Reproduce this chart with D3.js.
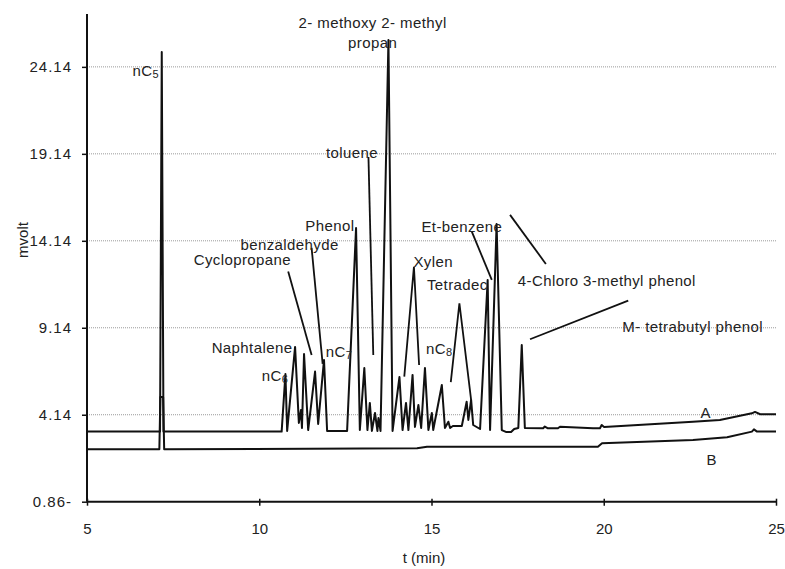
<!DOCTYPE html>
<html>
<head>
<meta charset="utf-8">
<script src="https://cdn.jsdelivr.net/npm/d3@7"></script>
<style>
  body { margin: 0; background: #fff; }
  text { font-family: "Liberation Sans", Arial, sans-serif; fill: #222; }
</style>
</head>
<body>
<svg id="chart" width="785" height="569"></svg>
<script>
const width = 785;
const height = 569;

// retention time (min) and signal (mvolt)
const timeA = [5.00, 7.12, 7.17, 7.22, 10.65, 10.76, 10.81, 11.04, 11.15, 11.21, 11.24, 11.30, 11.42, 11.62, 11.71,
  11.88, 11.97, 12.55, 12.81, 12.92, 13.05, 13.14, 13.21, 13.27, 13.36, 13.43, 13.46, 13.52, 13.75, 13.87,
  14.07, 14.16, 14.26, 14.33, 14.45, 14.52, 14.62, 14.70, 14.81, 14.91, 15.01, 15.05, 15.30, 15.39, 15.49,
  15.54, 15.62, 15.88, 16.02, 16.07, 16.15, 16.21, 16.41, 16.63, 16.70, 16.89, 17.04, 17.16, 17.31, 17.40,
  17.52, 17.62, 17.71, 18.24, 18.29, 18.38, 18.67, 18.73, 19.69, 19.89, 19.94, 20.01, 22.59, 23.37, 24.30,
  24.39, 24.54, 25.00];
const signalA = [3.17, 3.17, 25.00, 3.17, 3.17, 6.48, 3.21, 8.04, 3.67, 4.41, 3.38, 7.63, 3.26, 6.62, 3.61,
  7.29, 3.21, 3.21, 14.88, 3.26, 6.83, 3.26, 4.82, 3.21, 4.24, 3.21, 3.95, 3.21, 25.69, 3.21,
  6.31, 3.26, 4.82, 3.26, 6.43, 3.44, 4.70, 3.38, 6.83, 3.26, 4.24, 3.26, 5.85, 3.38, 3.74,
  3.38, 3.49, 3.49, 4.89, 3.84, 4.99, 3.55, 3.32, 11.89, 3.26, 15.11, 3.26, 3.15, 3.15, 3.32,
  3.38, 8.15, 3.38, 3.36, 3.46, 3.36, 3.36, 3.45, 3.36, 3.36, 3.55, 3.44, 3.74, 3.84, 4.22,
  4.30, 4.17, 4.17];

const timeB = [5.00, 7.10, 7.13, 7.21, 7.24, 14.58, 14.87, 19.83, 19.95, 22.59, 23.58, 24.30, 24.36, 24.45, 25.00];
const signalB = [2.15, 2.15, 5.16, 5.16, 2.15, 2.21, 2.30, 2.30, 2.50, 2.69, 2.84, 3.17, 3.30, 3.17, 3.17];

const yTicks = [-0.86, 4.14, 9.14, 14.14, 19.14, 24.14];
const yTickLabels = ["0.86-", "4.14", "9.14", "14.14", "19.14", "24.14"];
const xTicks = [5, 10, 15, 20, 25];

// peak names: [text, subscript, t, v, anchor]
const peakLabels = [
  ["nC", "5", 7.09, 23.96, "end"],
  ["2- methoxy 2- methyl", "", 13.29, 26.74, "middle"],
  ["propan", "", 13.29, 25.59, "middle"],
  ["Cyclopropane", "", 9.51, 13.08, "middle"],
  ["benzaldehyde", "", 10.88, 13.94, "middle"],
  ["Phenol", "", 12.05, 15.05, "middle"],
  ["Naphtalene", "", 9.79, 8.05, "middle"],
  ["nC", "6", 10.07, 6.43, "start"],
  ["nC", "7", 11.93, 7.80, "start"],
  ["toluene", "", 12.69, 19.27, "middle"],
  ["Xylen", "", 15.05, 13.00, "middle"],
  ["Tetradec", "", 15.75, 11.66, "middle"],
  ["Et-benzene", "", 15.88, 14.99, "middle"],
  ["4-Chloro 3-methyl phenol", "", 20.09, 11.89, "middle"],
  ["M- tetrabutyl phenol", "", 22.58, 9.24, "middle"],
  ["nC", "8", 14.84, 7.96, "start"],
  ["A", "", 22.96, 4.28, "middle"],
  ["B", "", 23.13, 1.60, "middle"]
];

// pointer lines from names to peaks: lists of [t, v]
const leaders = [
  [[10.84, 12.37], [11.52, 7.58]],
  [[11.52, 13.73], [11.84, 7.06]],
  [[13.17, 18.96], [13.31, 7.58]],
  [[16.17, 14.67], [16.75, 11.89]],
  [[17.28, 15.63], [18.32, 12.81]],
  [[17.86, 8.48], [20.71, 10.70]],
  [[14.21, 6.33], [14.49, 12.65], [14.64, 7.00]],
  [[15.56, 6.02], [15.81, 10.55], [16.15, 4.99]]
];

const plotLeft = 87, plotRight = 776, plotTop = 14, plotBottom = 501.7;

const x = d3.scaleLinear().domain([5, 25]).range([plotLeft, plotRight]);
const y = d3.scaleLinear().domain([-0.86, 27.18]).range([plotBottom, plotTop]);

const svg = d3.select("#chart");

// grid
svg.append("g")
  .selectAll("line")
  .data(yTicks.slice(1))
  .join("line")
  .attr("x1", plotLeft).attr("x2", plotRight)
  .attr("y1", d => y(d)).attr("y2", d => y(d))
  .attr("stroke", "#9a9a9a")
  .attr("stroke-width", 1)
  .attr("stroke-dasharray", "1,1");

// axes
const yAxis = d3.axisLeft(y).tickValues(yTicks).tickSize(5)
  .tickFormat((d, i) => yTickLabels[i]);
const gy = svg.append("g").attr("transform", `translate(${plotLeft},0)`).call(yAxis);
gy.select(".domain").attr("d", `M0,${plotTop}V${plotBottom}`).attr("stroke", "#111").attr("stroke-width", 2);
gy.selectAll(".tick line").attr("stroke", "#111").attr("stroke-width", 1.5);
gy.selectAll(".tick text").attr("x", -15).attr("fill", "#333")
  .style("font-size", "15px").style("letter-spacing", "1px")
  .style("font-family", "'Liberation Sans', Arial, sans-serif");

const xAxis = d3.axisBottom(x).tickValues(xTicks).tickSize(4).tickFormat(d3.format("d"));
const gx = svg.append("g").attr("transform", `translate(0,${plotBottom})`).call(xAxis);
gx.select(".domain").attr("d", `M${plotLeft},0H${plotRight}`).attr("stroke", "#111").attr("stroke-width", 2);
gx.selectAll(".tick line").attr("stroke", "#111").attr("stroke-width", 1.5).attr("y1", -3);
gx.selectAll(".tick text").attr("y", 22).attr("fill", "#333")
  .style("font-size", "15px")
  .style("font-family", "'Liberation Sans', Arial, sans-serif");

svg.append("text")
  .attr("transform", `translate(22,240) rotate(-90)`)
  .attr("text-anchor", "middle")
  .attr("dominant-baseline", "central")
  .style("font-size", "15px")
  .text("mvolt");

svg.append("text")
  .attr("x", 424).attr("y", 557)
  .attr("text-anchor", "middle")
  .attr("dominant-baseline", "central")
  .style("font-size", "15px")
  .text("t (min)");

// traces
const line = d3.line().x(d => x(d[0])).y(d => y(d[1]));
const traceB = timeB.map((t, i) => [t, signalB[i]]);
const traceA = timeA.map((t, i) => [t, signalA[i]]);

svg.append("path").datum(traceB)
  .attr("d", line).attr("fill", "none")
  .attr("stroke", "#111").attr("stroke-width", 2).attr("stroke-linejoin", "round");
svg.append("path").datum(traceA)
  .attr("d", line).attr("fill", "none")
  .attr("stroke", "#111").attr("stroke-width", 2).attr("stroke-linejoin", "round");

// leaders
svg.append("g")
  .selectAll("path")
  .data(leaders)
  .join("path")
  .attr("d", line)
  .attr("fill", "none")
  .attr("stroke", "#111")
  .attr("stroke-width", 1.8);

// labels
const lab = svg.append("g")
  .selectAll("text")
  .data(peakLabels)
  .join("text")
  .attr("x", d => x(d[2]))
  .attr("y", d => y(d[3]))
  .attr("text-anchor", d => d[4])
  .attr("dominant-baseline", "central")
  .style("font-size", "15px")
  .style("letter-spacing", "0.4px");
lab.append("tspan").text(d => d[0]);
lab.filter(d => d[1] !== "").append("tspan")
  .attr("dy", 4).style("font-size", "11px").text(d => d[1]);
</script>
</body>
</html>
